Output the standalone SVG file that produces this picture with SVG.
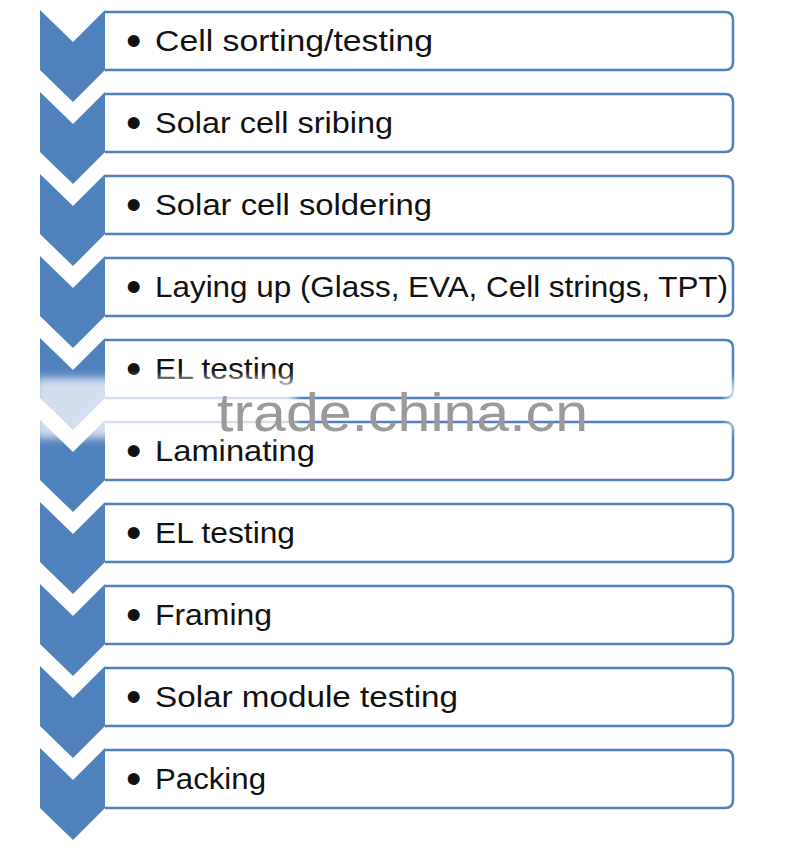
<svg xmlns="http://www.w3.org/2000/svg" width="800" height="856" viewBox="0 0 800 856">
<defs>
<style>
.chev{fill:#4F81BD;}
.box{fill:#FFFFFF;stroke:#4F81BD;stroke-width:2.5;}
.lbl{font-family:"Liberation Sans",Arial,sans-serif;font-size:30px;fill:#111111;}
.bul{font-family:"Liberation Sans",Arial,sans-serif;font-size:44px;fill:#111111;}
.wm{font-family:"Liberation Sans",Arial,sans-serif;font-size:54px;fill:#9a9a9a;}
</style>
<path id="chev" d="M0,0 L33,32 L65,0 L65,60 L33,92 L0,60 Z"/>
<filter id="blur" x="-20%" y="-50%" width="140%" height="200%"><feGaussianBlur stdDeviation="5"/></filter>
</defs>
<rect width="800" height="856" fill="#FFFFFF"/>
<g id="step1"><use href="#chev" class="chev" x="40" y="10"/><path class="box" d="M105,12 L725,12 Q733,12 733,20 L733,62 Q733,70 725,70 L105,70"/><text class="bul" x="126" y="56">•</text><text class="lbl" x="155" y="51" textLength="278" lengthAdjust="spacingAndGlyphs">Cell sorting/testing</text></g>
<g id="step2"><use href="#chev" class="chev" x="40" y="92"/><path class="box" d="M105,94 L725,94 Q733,94 733,102 L733,144 Q733,152 725,152 L105,152"/><text class="bul" x="126" y="138">•</text><text class="lbl" x="155" y="133" textLength="238" lengthAdjust="spacingAndGlyphs">Solar cell sribing</text></g>
<g id="step3"><use href="#chev" class="chev" x="40" y="174"/><path class="box" d="M105,176 L725,176 Q733,176 733,184 L733,226 Q733,234 725,234 L105,234"/><text class="bul" x="126" y="220">•</text><text class="lbl" x="155" y="215" textLength="277" lengthAdjust="spacingAndGlyphs">Solar cell soldering</text></g>
<g id="step4"><use href="#chev" class="chev" x="40" y="256"/><path class="box" d="M105,258 L725,258 Q733,258 733,266 L733,308 Q733,316 725,316 L105,316"/><text class="bul" x="126" y="302">•</text><text class="lbl" x="155" y="297" textLength="573" lengthAdjust="spacingAndGlyphs">Laying up (Glass, EVA, Cell strings, TPT)</text></g>
<g id="step5"><use href="#chev" class="chev" x="40" y="338"/><path class="box" d="M105,340 L725,340 Q733,340 733,348 L733,390 Q733,398 725,398 L105,398"/><text class="bul" x="126" y="384">•</text><text class="lbl" x="155" y="379" textLength="140" lengthAdjust="spacingAndGlyphs">EL testing</text></g>
<g id="step6"><use href="#chev" class="chev" x="40" y="420"/><path class="box" d="M105,422 L725,422 Q733,422 733,430 L733,472 Q733,480 725,480 L105,480"/><text class="bul" x="126" y="466">•</text><text class="lbl" x="155" y="461" textLength="160" lengthAdjust="spacingAndGlyphs">Laminating</text></g>
<g id="step7"><use href="#chev" class="chev" x="40" y="502"/><path class="box" d="M105,504 L725,504 Q733,504 733,512 L733,554 Q733,562 725,562 L105,562"/><text class="bul" x="126" y="548">•</text><text class="lbl" x="155" y="543" textLength="140" lengthAdjust="spacingAndGlyphs">EL testing</text></g>
<g id="step8"><use href="#chev" class="chev" x="40" y="584"/><path class="box" d="M105,586 L725,586 Q733,586 733,594 L733,636 Q733,644 725,644 L105,644"/><text class="bul" x="126" y="630">•</text><text class="lbl" x="155" y="625" textLength="117" lengthAdjust="spacingAndGlyphs">Framing</text></g>
<g id="step9"><use href="#chev" class="chev" x="40" y="666"/><path class="box" d="M105,668 L725,668 Q733,668 733,676 L733,718 Q733,726 725,726 L105,726"/><text class="bul" x="126" y="712">•</text><text class="lbl" x="155" y="707" textLength="303" lengthAdjust="spacingAndGlyphs">Solar module testing</text></g>
<g id="step10"><use href="#chev" class="chev" x="40" y="748"/><path class="box" d="M105,750 L725,750 Q733,750 733,758 L733,800 Q733,808 725,808 L105,808"/><text class="bul" x="126" y="794">•</text><text class="lbl" x="155" y="789" textLength="111" lengthAdjust="spacingAndGlyphs">Packing</text></g>
<g id="connectors"></g>
<rect x="35" y="378" width="260" height="60" fill="#FFFFFF" opacity="0.75" filter="url(#blur)"/>
<ellipse cx="735" cy="405" rx="8" ry="26" fill="#FFFFFF" opacity="0.85" filter="url(#blur)"/>
<text class="wm" x="217" y="431" textLength="371" lengthAdjust="spacingAndGlyphs">trade.china.cn</text>
</svg>
